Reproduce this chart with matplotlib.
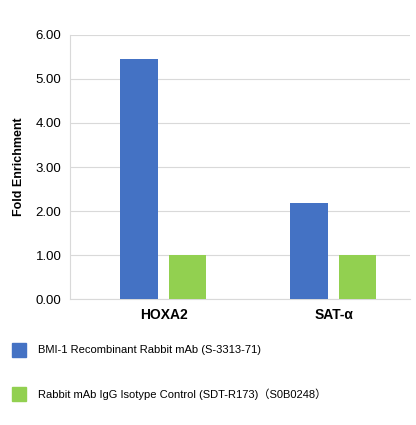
import matplotlib
matplotlib.use("Agg")
import matplotlib.pyplot as plt
from matplotlib.patches import Rectangle

categories = ["HOXA2", "SAT-α"]
bmi1 = [5.45, 2.18]
igg = [1.0, 1.0]
series_names = ["BMI-1 Recombinant Rabbit mAb (S-3313-71)",
                "Rabbit mAb IgG Isotype Control (SDT-R173)（S0B0248）"]
colors = ["#4472C4", "#92D050"]
yticks = [0, 1, 2, 3, 4, 5, 6]

plt.rcParams['font.family'] = ['Liberation Sans', 'Noto Sans CJK SC', 'DejaVu Sans']
fig = plt.figure(figsize=(4.16, 4.25), dpi=100)
ax = fig.add_axes([0.168, 0.296, 0.818, 0.622])
x = list(range(len(categories)))
w = 0.22
ax.bar([i - 0.145 for i in x], bmi1, width=w, color=colors[0], zorder=3)
ax.bar([i + 0.14 for i in x], igg, width=w, color=colors[1], zorder=3)
ax.set_xlim(-0.55, 1.45)
ax.set_ylim(0, 6)
ax.set_yticks(yticks)
ax.set_yticklabels([f"{v:.2f}" for v in yticks], fontsize=9.5)
ax.set_xticks(x)
ax.set_xticklabels(categories, fontsize=10, fontweight='bold')
ax.tick_params(length=0, pad=6)
ax.grid(axis='y', color='#d9d9d9', linewidth=0.8, zorder=0)
for s in ['top', 'right']:
    ax.spines[s].set_visible(False)
ax.spines['left'].set_color('#d9d9d9')
ax.spines['bottom'].set_color('#d9d9d9')
ax.set_ylabel("Fold Enrichment", fontsize=9, fontweight='bold', labelpad=8)

for k, (name, c) in enumerate(zip(series_names, colors)):
    yc = 350 + k * 44
    fig.patches.append(Rectangle((12/416, 1 - (yc + 7)/425), 14/416, 14/425,
                                 color=c, transform=fig.transFigure, figure=fig))
    fig.text(38/416, 1 - yc/425, name, fontsize=8, va='center')

fig.savefig("out.png", dpi=100)
